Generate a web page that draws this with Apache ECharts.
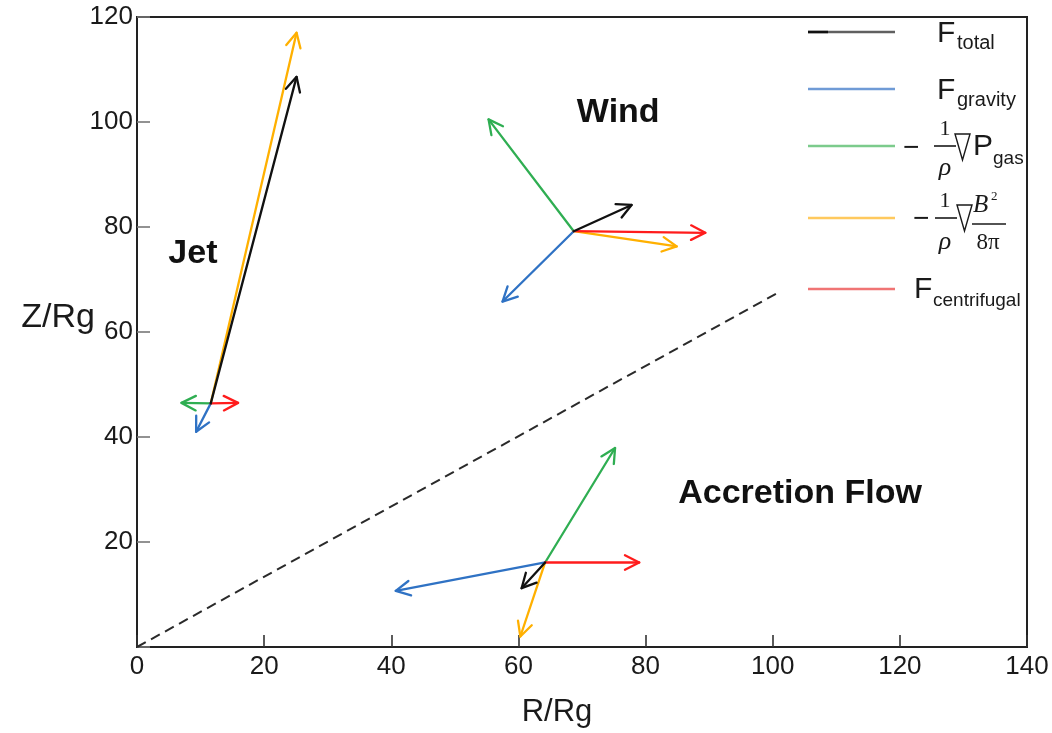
<!DOCTYPE html>
<html>
<head>
<meta charset="utf-8">
<script src="https://cdn.jsdelivr.net/npm/echarts@6/dist/echarts.min.js"></script>
<style>
  html, body { margin: 0; padding: 0; background: #fff; }
  #chart { width: 1052px; height: 733px; }
</style>
</head>
<body>
<div id="chart"></div>
<script>
// Force vectors acting on the flow, in units of Rg (start point and arrow tip).
// Order in every tip list: total, gravity, gas pressure, magnetic pressure, centrifugal.
const forceKeys = ['total', 'gravity', 'gas', 'magnetic', 'centrifugal'];

const jetOrigin = [11.6, 46.4];
const jetTips = [[25.1, 108.6], [9.3, 41.0], [7.0, 46.5], [25.1, 117.0], [15.9, 46.5]];

const windOrigin = [68.7, 79.2];
const windTips = [[77.8, 84.2], [57.5, 65.8], [55.3, 100.5], [84.9, 76.3], [89.4, 78.9]];

const diskOrigin = [64.2, 16.1];
const diskTips = [[60.5, 11.2], [40.7, 10.7], [75.2, 37.9], [60.3, 2.0], [79.0, 16.1]];

// Boundary between the accretion flow and the outflow
const boundaryLine = [[0, 0], [101, 67.6]];

// Region names and where they sit (Rg)
const regionNames = ['Jet', 'Wind', 'Accretion Flow'];
const regionPos = [[8.8, 75.0], [75.7, 101.7], [104.3, 29.3]];

// Axis ranges and ticks
const xTicks = [0, 20, 40, 60, 80, 100, 120, 140];
const yTicks = [0, 20, 40, 60, 80, 100, 120];

// ---- styling ----
const arrowColors = {
  total: '#111111',
  gravity: '#2f72c4',
  gas: '#2fae52',
  magnetic: '#ffb000',
  centrifugal: '#ff1c1c'
};
const legendColors = {
  total: '#606060',
  gravity: '#6f9bd6',
  gas: '#7ccb8c',
  magnetic: '#ffc95e',
  centrifugal: '#f07474'
};
const drawOrder = ['magnetic', 'gas', 'gravity', 'centrifugal', 'total'];

function buildArrows(origin, tips) {
  return drawOrder.map(function (key) {
    const tip = tips[forceKeys.indexOf(key)];
    return [origin[0], origin[1], tip[0], tip[1], forceKeys.indexOf(key)];
  });
}
const arrowData = []
  .concat(buildArrows(jetOrigin, jetTips))
  .concat(buildArrows(windOrigin, windTips))
  .concat(buildArrows(diskOrigin, diskTips));

function renderArrow(params, api) {
  const p0 = api.coord([api.value(0), api.value(1)]);
  const p1 = api.coord([api.value(2), api.value(3)]);
  const color = arrowColors[forceKeys[api.value(4)]];
  const ang = Math.atan2(p1[1] - p0[1], p1[0] - p0[0]);
  const L = 16, a = 27 * Math.PI / 180;
  const h1 = [p1[0] - L * Math.cos(ang - a), p1[1] - L * Math.sin(ang - a)];
  const h2 = [p1[0] - L * Math.cos(ang + a), p1[1] - L * Math.sin(ang + a)];
  const style = { stroke: color, lineWidth: 2.3, fill: null, lineCap: 'round', lineJoin: 'round' };
  return {
    type: 'group',
    children: [
      { type: 'line', shape: { x1: p0[0], y1: p0[1], x2: p1[0], y2: p1[1] }, style: style },
      { type: 'polyline', shape: { points: [h1, p1, h2] }, style: style }
    ]
  };
}

const SANS = '"Liberation Sans", Arial, sans-serif';
const SERIF = '"Liberation Serif", "Times New Roman", serif';
const TXT = '#1a1a1a';

// ---- legend (drawn inside the plot frame, top right) ----
function legendLine(y, key) {
  return { type: 'line', shape: { x1: 808, y1: y, x2: 895, y2: y },
           style: { stroke: legendColors[key], lineWidth: 2.5 }, z: 10 };
}
function txt(x, y, s, size, opts) {
  opts = opts || {};
  return {
    type: 'text', x: x, y: y, z: 10,
    style: {
      text: s, fontSize: size, fontFamily: opts.family || SANS,
      fontStyle: opts.italic ? 'italic' : 'normal',
      fill: TXT, align: opts.align || 'left', verticalAlign: 'middle'
    }
  };
}
function bar(x1, x2, y) {
  return { type: 'line', shape: { x1: x1, y1: y, x2: x2, y2: y },
           style: { stroke: TXT, lineWidth: 1.6 }, z: 10 };
}
function nabla(x, yTop, w, h) {
  return { type: 'polygon', z: 10,
    shape: { points: [[x, yTop], [x + w, yTop], [x + w / 2, yTop + h]] },
    style: { fill: null, stroke: TXT, lineWidth: 1.4 } };
}

const legendGraphics = [
  // F_total
  { type: 'line', shape: { x1: 808, y1: 32, x2: 828, y2: 32 }, style: { stroke: '#111', lineWidth: 2.5 }, z: 11 },
  legendLine(32, 'total'),
  txt(937, 34, 'F', 30),
  txt(957, 43, 'total', 20),
  // F_gravity
  legendLine(89, 'gravity'),
  txt(937, 91, 'F', 30),
  txt(957, 100, 'gravity', 20),
  // -(1/rho) grad P_gas
  legendLine(146, 'gas'),
  txt(903, 148, '\u2212', 28),
  txt(945, 129, '1', 22, { family: SERIF, align: 'center' }),
  bar(934, 956, 146),
  txt(945, 168, '\u03c1', 26, { family: SERIF, italic: true, align: 'center' }),
  nabla(955, 134, 15, 26),
  txt(973, 147, 'P', 30),
  txt(993, 159, 'gas', 19),
  // -(1/rho) grad B^2/8pi
  legendLine(218, 'magnetic'),
  txt(913, 219, '\u2212', 28),
  txt(945, 201, '1', 22, { family: SERIF, align: 'center' }),
  bar(935, 957, 218),
  txt(945, 242, '\u03c1', 26, { family: SERIF, italic: true, align: 'center' }),
  nabla(957, 205, 15, 26),
  txt(973, 205, 'B', 25, { family: SERIF, italic: true }),
  txt(991, 197, '2', 13, { family: SERIF }),
  bar(972, 1006, 224),
  txt(988, 243, '8\u03c0', 23, { family: SERIF, align: 'center' }),
  // F_centrifugal
  legendLine(289, 'centrifugal'),
  txt(914, 290, 'F', 30),
  txt(933, 301, 'centrifugal', 19),
  // vertical axis title
  { type: 'text', x: 95, y: 318, z: 10,
    style: { text: 'Z/Rg', fontSize: 34, fontFamily: SANS, fill: TXT, align: 'right', verticalAlign: 'middle' } }
];

const chart = echarts.init(document.getElementById('chart'), null, { renderer: 'canvas' });

chart.setOption({
  backgroundColor: '#ffffff',
  animation: false,
  grid: {
    left: 137, right: 25, top: 17, bottom: 86,
    show: true, borderColor: '#222', borderWidth: 2, backgroundColor: 'transparent'
  },
  xAxis: {
    type: 'value', min: xTicks[0], max: xTicks[xTicks.length - 1], interval: 20,
    name: 'R/Rg', nameLocation: 'middle', nameGap: 50,
    nameTextStyle: { fontSize: 31, fontFamily: SANS, color: TXT, padding: [0, 50, 0, 0] },
    axisLine: { show: true, lineStyle: { color: '#222', width: 2 } },
    axisTick: { show: true, inside: true, length: 12, lineStyle: { color: '#333', width: 1.6 } },
    axisLabel: { fontSize: 26, fontFamily: SANS, color: TXT, margin: 7 },
    splitLine: { show: false }
  },
  yAxis: {
    type: 'value', min: yTicks[0], max: yTicks[yTicks.length - 1], interval: 20,
    axisLine: { show: true, lineStyle: { color: '#222', width: 2 } },
    axisTick: { show: true, inside: true, length: 13, lineStyle: { color: '#777', width: 1.6 } },
    axisLabel: {
      fontSize: 26, fontFamily: SANS, color: TXT, margin: 4,
      formatter: function (v) { return v === 0 ? '' : String(v); }
    },
    splitLine: { show: false }
  },
  series: [
    {
      type: 'line',
      data: boundaryLine,
      symbol: 'none',
      lineStyle: { color: '#2a2a2a', width: 2, type: [10, 6] },
      z: 2
    },
    {
      type: 'custom',
      renderItem: renderArrow,
      data: arrowData,
      encode: { x: [0, 2], y: [1, 3] },
      z: 5
    },
    {
      type: 'scatter',
      symbolSize: 0,
      itemStyle: { opacity: 1 },
      data: regionNames.map(function (n, i) { return { name: n, value: regionPos[i] }; }),
      label: {
        show: true, position: 'inside', formatter: '{b}', opacity: 1,
        fontSize: 34, fontWeight: 'bold', fontFamily: SANS, color: '#111'
      },
      z: 6
    }
  ],
  graphic: legendGraphics
});
</script>
</body>
</html>
